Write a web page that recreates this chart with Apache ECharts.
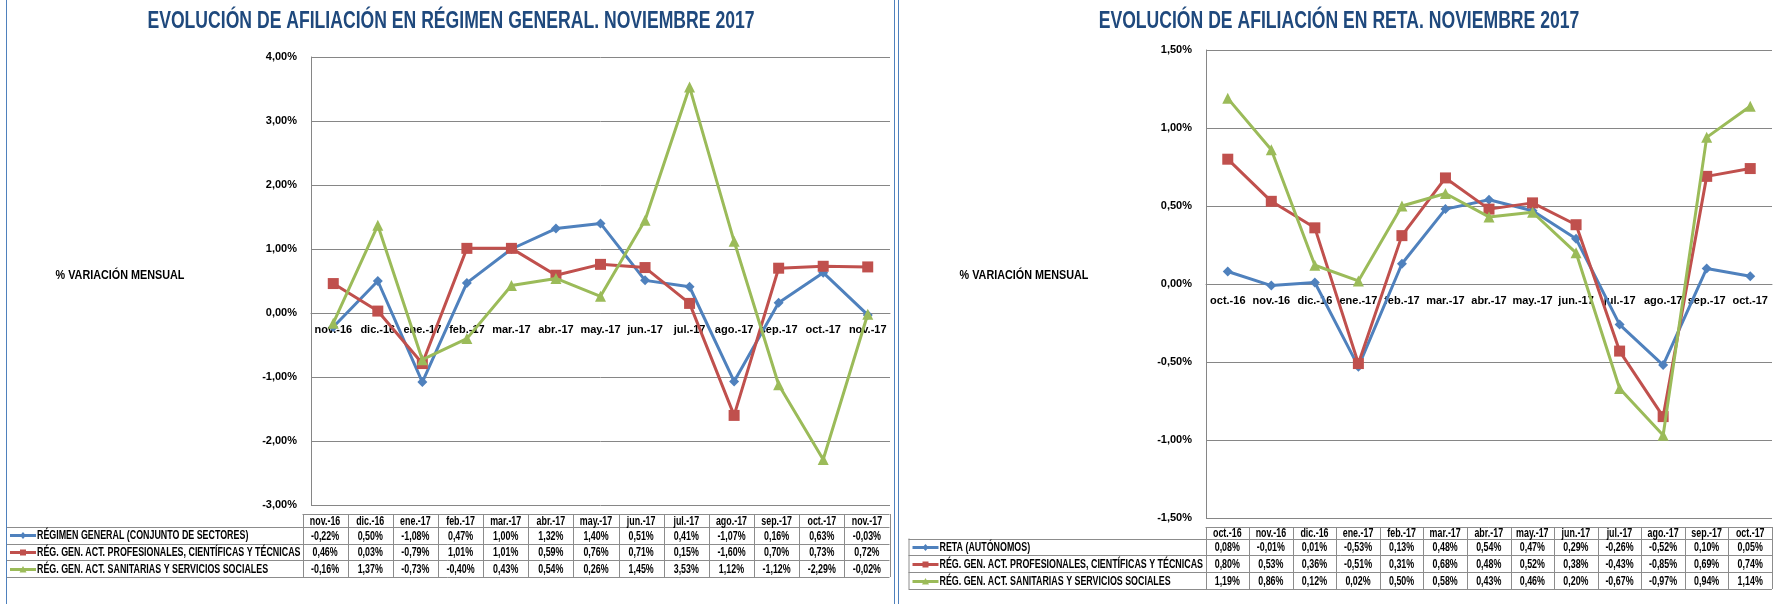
<!DOCTYPE html>
<html>
<head>
<meta charset="utf-8">
<script src="https://cdn.jsdelivr.net/npm/echarts@6/dist/echarts.min.js"></script>
<style>
html,body{margin:0;padding:0;background:#fff;}
#c{width:1786px;height:604px;}
</style>
</head>
<body>
<div id="c"></div>
<script>
// ---- DATA ----
const catsGeneral = ['nov.-16','dic.-16','ene.-17','feb.-17','mar.-17','abr.-17','may.-17','jun.-17','jul.-17','ago.-17','sep.-17','oct.-17','nov.-17'];
const regimenGeneral = [-0.22, 0.50, -1.08, 0.47, 1.00, 1.32, 1.40, 0.51, 0.41, -1.07, 0.16, 0.63, -0.03];
const rgProfesionales = [0.46, 0.03, -0.79, 1.01, 1.01, 0.59, 0.76, 0.71, 0.15, -1.60, 0.70, 0.73, 0.72];
const rgSanitarias = [-0.16, 1.37, -0.73, -0.40, 0.43, 0.54, 0.26, 1.45, 3.53, 1.12, -1.12, -2.29, -0.02];

const catsReta = ['oct.-16','nov.-16','dic.-16','ene.-17','feb.-17','mar.-17','abr.-17','may.-17','jun.-17','jul.-17','ago.-17','sep.-17','oct.-17'];
const reta = [0.08, -0.01, 0.01, -0.53, 0.13, 0.48, 0.54, 0.47, 0.29, -0.26, -0.52, 0.10, 0.05];
const retaProfesionales = [0.80, 0.53, 0.36, -0.51, 0.31, 0.68, 0.48, 0.52, 0.38, -0.43, -0.85, 0.69, 0.74];
const retaSanitarias = [1.19, 0.86, 0.12, 0.02, 0.50, 0.58, 0.43, 0.46, 0.20, -0.67, -0.97, 0.94, 1.14];

const namesGeneral = ['RÉGIMEN GENERAL (CONJUNTO DE SECTORES)','RÉG. GEN. ACT. PROFESIONALES, CIENTÍFICAS Y TÉCNICAS','RÉG. GEN. ACT. SANITARIAS Y SERVICIOS SOCIALES'];
const namesReta = ['RETA (AUTÓNOMOS)','RÉG. GEN. ACT. PROFESIONALES, CIENTÍFICAS Y TÉCNICAS','RÉG. GEN. ACT. SANITARIAS Y SERVICIOS SOCIALES'];
const titleGeneral = 'EVOLUCIÓN DE AFILIACIÓN EN RÉGIMEN GENERAL. NOVIEMBRE 2017';
const titleReta = 'EVOLUCIÓN DE AFILIACIÓN EN RETA. NOVIEMBRE 2017';
const yTitle = '% VARIACIÓN MENSUAL';
const rangeGeneral = [-3, 4, 1];
const rangeReta = [-1.5, 1.5, 0.5];

// ---- STYLE ----
const colors = ['#4F81BD', '#C0504D', '#9BBB59'];
const symbols = ['diamond', 'rect', 'triangle'];
const symSizes = [10, 11, 11];
const gridColor = '#868686';
const tableBorder = '#8C8C8C';
const fam = '"Liberation Sans", Arial, sans-serif';
const pct = v => v.toFixed(2).replace('.', ',') + '%';

const chart = echarts.init(document.getElementById('c'), null, {renderer: 'canvas'});

const G = [
  {left: 311, top: 57, width: 579, height: 448},
  {left: 1206, top: 50, width: 566, height: 468}
];

function yAxisCfg(gi, r) {
  return {
    type: 'value', gridIndex: gi, min: r[0], max: r[1], interval: r[2],
    axisLine: {show: true, lineStyle: {color: gridColor, width: 1}},
    axisTick: {show: false},
    splitLine: {show: true, lineStyle: {color: gridColor, width: 1}},
    axisLabel: {formatter: v => pct(v), color: '#000', fontWeight: 'bold', fontSize: 11, fontFamily: fam, margin: 14}
  };
}
function xAxisCfg(gi, cats, r) {
  const zeroOffset = -G[gi].height * (0 - r[0]) / (r[1] - r[0]);
  return {
    type: 'category', gridIndex: gi, data: cats, boundaryGap: true,
    position: 'bottom', offset: zeroOffset,
    axisLine: {show: true, onZero: false, lineStyle: {color: gridColor, width: 1}},
    axisTick: {show: false},
    axisLabel: {color: '#000', fontWeight: 'bold', fontSize: 11, fontFamily: fam, margin: 11, interval: 0}
  };
}
function seriesCfg(gi, arr, i, name) {
  return {
    type: 'line', name: name, xAxisIndex: gi, yAxisIndex: gi, data: arr,
    symbol: symbols[i], symbolSize: symSizes[i], showSymbol: true,
    lineStyle: {color: colors[i], width: 3},
    itemStyle: {color: colors[i]},
    z: 3 + i, animation: false
  };
}

// ---- TABLE (graphic) ----
const graphics = [];
function L(x1, y1, x2, y2, color, w) {
  graphics.push({type: 'line', shape: {x1, y1, x2, y2}, style: {stroke: color, lineWidth: w || 1}, silent: true});
}
function T(text, x, y, font, align, color, sx) {
  graphics.push({type: 'text', x: x, y: y, scaleX: sx || 1, scaleY: 1,
    style: {text, x: 0, y: 0, font, align: align || 'center', verticalAlign: 'middle', fill: color || '#000'}, silent: true, z: 10});
}
function buildTable(cfg) {
  const {legL, colL, colR, hTop, rows, cats, data, names} = cfg;
  const n = cats.length;
  const cw = (colR - colL) / n;
  const bottom = rows[rows.length - 1];
  L(colL, hTop + .5, colR, hTop + .5, tableBorder);
  for (let r = 0; r < rows.length; r++) L(legL, Math.round(rows[r]) + .5, colR, Math.round(rows[r]) + .5, tableBorder);
  L(legL + .5, rows[0], legL + .5, bottom, tableBorder);
  for (let c = 0; c <= n; c++) {
    const x = Math.round(colL + c * cw) + .5;
    L(x, hTop, x, bottom, tableBorder);
  }
  const hFont = 'bold 12px ' + fam;
  const SX = 0.74;
  for (let c = 0; c < n; c++) {
    const cx = colL + (c + .5) * cw;
    T(cats[c], cx, (hTop + rows[0]) / 2 + 1, hFont, 'center', '#000', SX);
    for (let s = 0; s < data.length; s++) {
      T(pct(data[s][c]), cx, (rows[s] + rows[s + 1]) / 2 + 1, hFont, 'center', '#000', SX);
    }
  }
  for (let s = 0; s < data.length; s++) {
    const cy = Math.round((rows[s] + rows[s + 1]) / 2);
    L(legL + 4, cy + .5, legL + 30, cy + .5, colors[s], 3);
    const mx = legL + 17;
    if (s === 0) graphics.push({type: 'polygon', shape: {points: [[mx, cy - 3], [mx + 3, cy + .5], [mx, cy + 4], [mx - 3, cy + .5]]}, style: {fill: colors[s]}, silent: true});
    if (s === 1) graphics.push({type: 'rect', shape: {x: mx - 3, y: cy - 2.5, width: 6, height: 6}, style: {fill: colors[s]}, silent: true});
    if (s === 2) graphics.push({type: 'polygon', shape: {points: [[mx, cy - 3], [mx + 3.5, cy + 3.5], [mx - 3.5, cy + 3.5]]}, style: {fill: colors[s]}, silent: true});
    T(names[s], legL + 31, cy + 1, hFont, 'left', '#000', SX);
  }
}
buildTable({legL: 6, colL: 302.5, colR: 889.5, hTop: 514, rows: [527, 543.7, 560.3, 577], cats: catsGeneral, data: [regimenGeneral, rgProfesionales, rgSanitarias], names: namesGeneral});
buildTable({legL: 908.5, colL: 1205.5, colR: 1772, hTop: 527, rows: [538.5, 555.3, 572.2, 589], cats: catsReta, data: [reta, retaProfesionales, retaSanitarias], names: namesReta});

// titles & axis titles
const titleFont = 'bold 23px ' + fam;
T(titleGeneral, 451, 22, titleFont, 'center', '#1F497D', 0.765);
T(titleReta, 1339, 22, titleFont, 'center', '#1F497D', 0.765);
T(yTitle, 120, 276, 'bold 12px ' + fam, 'center', '#000', 0.9);
T(yTitle, 1024, 276, 'bold 12px ' + fam, 'center', '#000', 0.9);

// panel borders
L(6.5, 0, 6.5, 604, '#4F81BD', 1);
L(894.5, 0, 894.5, 604, '#4F81BD', 1);
L(898.5, 0, 898.5, 604, '#4F81BD', 1);

chart.setOption({
  animation: false,
  backgroundColor: '#fff',
  grid: G.map(g => Object.assign({containLabel: false}, g)),
  xAxis: [xAxisCfg(0, catsGeneral, rangeGeneral), xAxisCfg(1, catsReta, rangeReta)],
  yAxis: [yAxisCfg(0, rangeGeneral), yAxisCfg(1, rangeReta)],
  series: [
    seriesCfg(0, regimenGeneral, 0, namesGeneral[0]),
    seriesCfg(0, rgProfesionales, 1, namesGeneral[1]),
    seriesCfg(0, rgSanitarias, 2, namesGeneral[2]),
    seriesCfg(1, reta, 0, namesReta[0]),
    seriesCfg(1, retaProfesionales, 1, namesReta[1]),
    seriesCfg(1, retaSanitarias, 2, namesReta[2])
  ],
  graphic: graphics
});
</script>
</body>
</html>
